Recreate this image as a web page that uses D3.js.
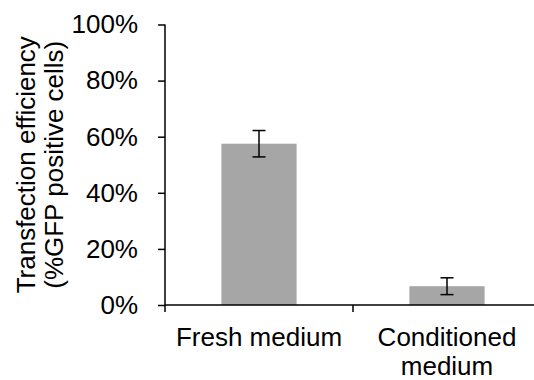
<!DOCTYPE html>
<html lang="en">
<head>
    <meta charset="UTF-8">
    <title>Transfection efficiency</title>
    <script src="https://d3js.org/d3.v7.min.js"></script>
    <style>
        body { margin: 0; background: #fff; }
        svg { display: block; font-family: "Liberation Sans", Arial, sans-serif; }
    </style>
</head>
<body>
    <div id="chart"></div>
    <script>
        // data
        const categories = [["Fresh medium"], ["Conditioned", "medium"]];
        const means = [57.5, 6.7];
        const errors = [4.7, 3.0];
        const yTicks = [0, 20, 40, 60, 80, 100];

        const W = 534, H = 380;
        const margin = { top: 24.5, right: -7, bottom: 75, left: 165 };
        const fontSize = 26;

        const svg = d3.select("#chart").append("svg")
            .attr("width", W)
            .attr("height", H);

        const x = d3.scaleBand()
            .domain(d3.range(categories.length))
            .range([margin.left, W - margin.right])
            .paddingInner(0)
            .paddingOuter(0);

        const y = d3.scaleLinear()
            .domain([0, 100])
            .range([H - margin.bottom, margin.top]);

        const barW = x.bandwidth() * 0.4;

        // bars
        svg.append("g").selectAll("rect")
            .data(means)
            .join("rect")
            .attr("x", (d, i) => x(i) + (x.bandwidth() - barW) / 2)
            .attr("y", d => y(d))
            .attr("width", barW)
            .attr("height", d => y(0) - y(d))
            .attr("fill", "#a6a6a6");

        // error bars
        const eb = svg.append("g")
            .attr("stroke", "#000")
            .attr("stroke-width", 1.5);
        means.forEach((m, i) => {
            const cx = x(i) + x.bandwidth() / 2;
            eb.append("line")
                .attr("x1", cx).attr("x2", cx)
                .attr("y1", y(m + errors[i])).attr("y2", y(m - errors[i]));
            [m + errors[i], m - errors[i]].forEach(v => {
                eb.append("line")
                    .attr("x1", cx - 6.5).attr("x2", cx + 6.5)
                    .attr("y1", y(v)).attr("y2", y(v));
            });
        });

        // y axis
        const yAxis = svg.append("g")
            .attr("transform", `translate(${margin.left},0)`)
            .call(d3.axisLeft(y).tickValues(yTicks).tickSize(7).tickPadding(20)
                .tickFormat(d => d + "%"));
        yAxis.selectAll("line, path").attr("stroke", "#000").attr("stroke-width", 1.5);
        yAxis.selectAll("text")
            .attr("font-size", fontSize)
            .attr("font-family", "Liberation Sans, Arial, sans-serif")
            .attr("fill", "#000");
        yAxis.select(".domain").attr("d", `M0,${y(100)}V${y(0)}`);

        // x axis
        const xAxis = svg.append("g")
            .attr("transform", `translate(0,${y(0)})`);
        xAxis.append("line")
            .attr("x1", margin.left).attr("x2", W)
            .attr("y1", 0).attr("y2", 0)
            .attr("stroke", "#000").attr("stroke-width", 1.5);
        xAxis.selectAll(".tick")
            .data(d3.range(categories.length + 1))
            .join("line")
            .attr("x1", i => i < categories.length ? x(i) : x(i - 1) + x.bandwidth())
            .attr("x2", i => i < categories.length ? x(i) : x(i - 1) + x.bandwidth())
            .attr("y1", 0).attr("y2", 7)
            .attr("stroke", "#000").attr("stroke-width", 1.5);

        const labels = xAxis.selectAll("text.cat")
            .data(categories)
            .join("text")
            .attr("class", "cat")
            .attr("text-anchor", "middle")
            .attr("font-size", fontSize)
            .attr("fill", "#000")
            .attr("transform", (d, i) => `translate(${x(i) + x.bandwidth() / 2},0)`);
        labels.selectAll("tspan")
            .data(d => d)
            .join("tspan")
            .attr("x", 0)
            .attr("y", (d, j) => 41 + j * 29)
            .text(d => d);

        // y label
        svg.append("text")
            .attr("transform", `translate(0,${(y(0) + y(100)) / 2}) rotate(-90)`)
            .attr("text-anchor", "middle")
            .attr("font-size", fontSize)
            .attr("fill", "#000")
            .selectAll("tspan")
            .data(["Transfection efficiency", "(%GFP positive cells)"])
            .join("tspan")
            .attr("x", 0)
            .attr("y", (d, i) => 35 + i * 28)
            .text(d => d);
    </script>
</body>
</html>
